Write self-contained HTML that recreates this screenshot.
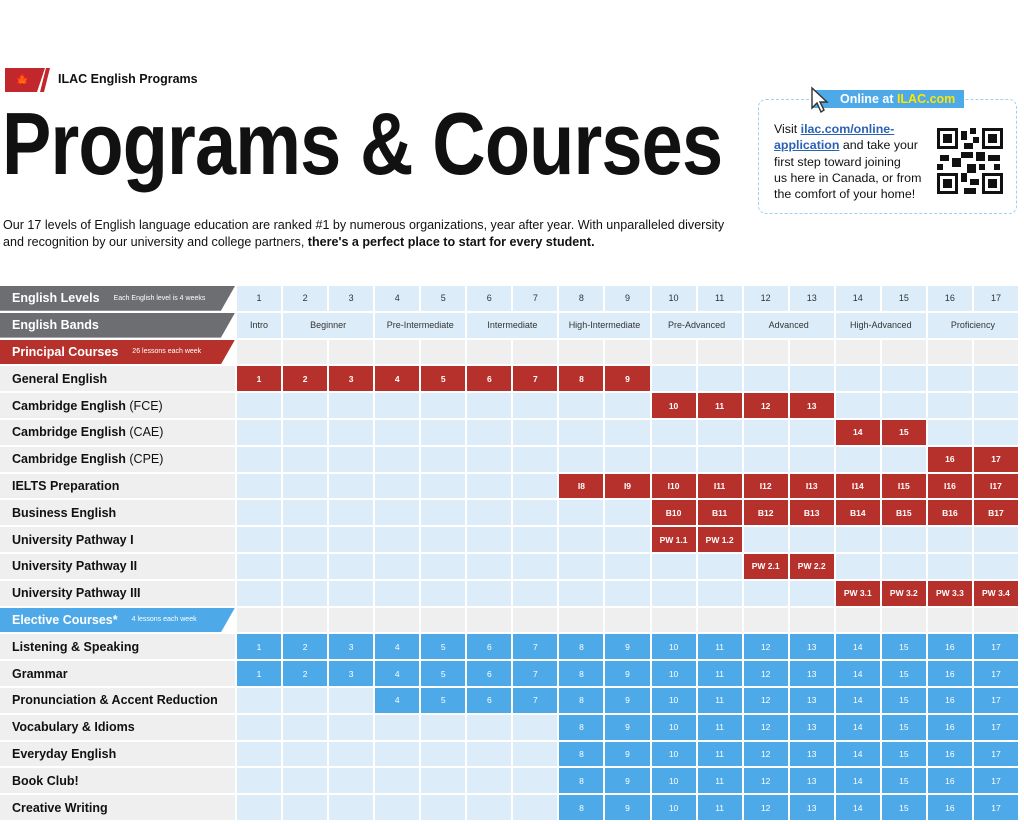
<!DOCTYPE html>
<html><head><meta charset="utf-8"><style>
*{margin:0;padding:0;box-sizing:border-box}
body{width:1024px;height:824px;background:#fff;font-family:"Liberation Sans",Arial,sans-serif;position:relative;overflow:hidden;color:#111}
.abs{position:absolute}
#grid{position:absolute;left:0;top:286px;width:1018px;display:grid;grid-template-columns:235px repeat(17,1fr);grid-auto-rows:24.8px;gap:2px 2px}
#grid div{display:flex;align-items:center;justify-content:center;font-size:9px;color:#333}
#grid .l{justify-content:flex-start;padding-left:12px;background:#efefef;font-size:12.5px;font-weight:bold;color:#111}
#grid .e{background:#dcedf9}
#grid .g{background:#efefef}
#grid .r{background:#b7312c;color:#fff;font-weight:bold;font-size:8.5px}
#grid .b{background:#4ea9e8;color:#fff;font-size:8.5px}
#grid .h{justify-content:flex-start;padding-left:12px;color:#fff;font-weight:bold;font-size:12.5px;clip-path:polygon(0 0,100% 0,94% 100%,0 100%);background:#6d6e71}
#grid .h small{font-weight:normal;font-size:7px;margin-left:14px}
</style></head><body>
<div class="abs" style="left:5px;top:68px;width:40px;height:24px;background:#c1272d;clip-path:polygon(0 0,100% 0,80% 100%,0 100%)"></div>
<div class="abs" style="left:40px;top:68px;width:10px;height:24px;background:#c1272d;clip-path:polygon(60% 0,100% 0,40% 100%,0 100%)"></div>
<div class="abs" style="left:14px;top:72px;color:#fff;font-size:13px">&#127809;</div>
<div class="abs" style="left:58px;top:72px;font-size:12.5px;font-weight:bold">ILAC English Programs</div>
<div class="abs" style="left:2px;top:100px;font-size:88px;font-weight:bold;letter-spacing:-1px;transform:scaleX(0.84);transform-origin:0 0;white-space:nowrap;line-height:1">Programs &amp; Courses</div>
<div class="abs" style="left:3px;top:217px;font-size:12.55px;line-height:17px;white-space:nowrap">Our 17 levels of English language education are ranked #1 by numerous organizations, year after year. With unparalleled diversity<br>and recognition by our university and college partners, <b>there's a perfect place to start for every student.</b></div>
<div class="abs" style="left:758px;top:99px;width:259px;height:115px;border:1.5px dashed #9fd0f0;border-radius:8px"></div>
<div class="abs" style="left:812px;top:90px;width:152px;height:18px;background:#4ea9e8;color:#fff;font-weight:bold;font-size:12.5px;line-height:18px;padding-left:28px">Online at <span style="color:#ffe600">ILAC.com</span></div>
<svg class="abs" style="left:810px;top:86px" width="20" height="28" viewBox="0 0 20 28"><path d="M2 2 L2 22 L7 17 L11 26 L14 24 L10 16 L17 16 Z" fill="#fff" stroke="#333" stroke-width="1.4"/></svg>
<div class="abs" style="left:774px;top:121px;font-size:12.4px;line-height:16.3px;white-space:nowrap">Visit <a style="color:#2a62b5;font-weight:bold;text-decoration:underline">ilac.com/online-</a><br><a style="color:#2a62b5;font-weight:bold;text-decoration:underline">application</a> and take your<br>first step toward joining<br>us here in Canada, or from<br>the comfort of your home!</div>
<svg class="abs" style="left:937px;top:128px" width="66" height="66" viewBox="0 0 22 22">
<rect width="22" height="22" fill="#fff"/>
<g fill="#111"><rect x="0" y="0" width="7" height="7"/><rect x="15" y="0" width="7" height="7"/><rect x="0" y="15" width="7" height="7"/><rect x="15" y="15" width="7" height="7"/></g>
<g fill="#fff"><rect x="1" y="1" width="5" height="5"/><rect x="16" y="1" width="5" height="5"/><rect x="1" y="16" width="5" height="5"/><rect x="16" y="16" width="5" height="5"/></g>
<g fill="#111"><rect x="2" y="2" width="3" height="3"/><rect x="17" y="2" width="3" height="3"/><rect x="2" y="17" width="3" height="3"/><rect x="17" y="17" width="3" height="3"/>
<rect x="8" y="1" width="2" height="3"/><rect x="11" y="0" width="2" height="2"/><rect x="9" y="5" width="3" height="2"/><rect x="8" y="8" width="4" height="2"/><rect x="13" y="8" width="3" height="3"/><rect x="1" y="9" width="3" height="2"/><rect x="5" y="10" width="3" height="3"/><rect x="17" y="9" width="4" height="2"/><rect x="10" y="12" width="3" height="3"/><rect x="14" y="12" width="2" height="2"/><rect x="19" y="12" width="2" height="2"/><rect x="8" y="15" width="2" height="3"/><rect x="11" y="17" width="3" height="2"/><rect x="9" y="20" width="4" height="2"/><rect x="0" y="12" width="2" height="2"/><rect x="12" y="3" width="2" height="2"/></g>
</svg>
<div id="grid">
<div class="h">English Levels<small>Each English level is 4 weeks</small></div>
<div class="e">1</div><div class="e">2</div><div class="e">3</div><div class="e">4</div><div class="e">5</div><div class="e">6</div><div class="e">7</div><div class="e">8</div><div class="e">9</div><div class="e">10</div><div class="e">11</div><div class="e">12</div><div class="e">13</div><div class="e">14</div><div class="e">15</div><div class="e">16</div><div class="e">17</div>
<div class="h">English Bands</div>
<div class="e">Intro</div><div class="e" style="grid-column:span 2">Beginner</div><div class="e" style="grid-column:span 2">Pre-Intermediate</div><div class="e" style="grid-column:span 2">Intermediate</div><div class="e" style="grid-column:span 2">High-Intermediate</div><div class="e" style="grid-column:span 2">Pre-Advanced</div><div class="e" style="grid-column:span 2">Advanced</div><div class="e" style="grid-column:span 2">High-Advanced</div><div class="e" style="grid-column:span 2">Proficiency</div>
<div class="h" style="background:#b7312c">Principal Courses<small>26 lessons each week</small></div>
<div class="g"></div><div class="g"></div><div class="g"></div><div class="g"></div><div class="g"></div><div class="g"></div><div class="g"></div><div class="g"></div><div class="g"></div><div class="g"></div><div class="g"></div><div class="g"></div><div class="g"></div><div class="g"></div><div class="g"></div><div class="g"></div><div class="g"></div>
<div class="l">General English</div>
<div class="r">1</div><div class="r">2</div><div class="r">3</div><div class="r">4</div><div class="r">5</div><div class="r">6</div><div class="r">7</div><div class="r">8</div><div class="r">9</div><div class="e"></div><div class="e"></div><div class="e"></div><div class="e"></div><div class="e"></div><div class="e"></div><div class="e"></div><div class="e"></div>
<div class="l">Cambridge English&nbsp;<span style="font-weight:normal">(FCE)</span></div>
<div class="e"></div><div class="e"></div><div class="e"></div><div class="e"></div><div class="e"></div><div class="e"></div><div class="e"></div><div class="e"></div><div class="e"></div><div class="r">10</div><div class="r">11</div><div class="r">12</div><div class="r">13</div><div class="e"></div><div class="e"></div><div class="e"></div><div class="e"></div>
<div class="l">Cambridge English&nbsp;<span style="font-weight:normal">(CAE)</span></div>
<div class="e"></div><div class="e"></div><div class="e"></div><div class="e"></div><div class="e"></div><div class="e"></div><div class="e"></div><div class="e"></div><div class="e"></div><div class="e"></div><div class="e"></div><div class="e"></div><div class="e"></div><div class="r">14</div><div class="r">15</div><div class="e"></div><div class="e"></div>
<div class="l">Cambridge English&nbsp;<span style="font-weight:normal">(CPE)</span></div>
<div class="e"></div><div class="e"></div><div class="e"></div><div class="e"></div><div class="e"></div><div class="e"></div><div class="e"></div><div class="e"></div><div class="e"></div><div class="e"></div><div class="e"></div><div class="e"></div><div class="e"></div><div class="e"></div><div class="e"></div><div class="r">16</div><div class="r">17</div>
<div class="l">IELTS Preparation</div>
<div class="e"></div><div class="e"></div><div class="e"></div><div class="e"></div><div class="e"></div><div class="e"></div><div class="e"></div><div class="r">I8</div><div class="r">I9</div><div class="r">I10</div><div class="r">I11</div><div class="r">I12</div><div class="r">I13</div><div class="r">I14</div><div class="r">I15</div><div class="r">I16</div><div class="r">I17</div>
<div class="l">Business English</div>
<div class="e"></div><div class="e"></div><div class="e"></div><div class="e"></div><div class="e"></div><div class="e"></div><div class="e"></div><div class="e"></div><div class="e"></div><div class="r">B10</div><div class="r">B11</div><div class="r">B12</div><div class="r">B13</div><div class="r">B14</div><div class="r">B15</div><div class="r">B16</div><div class="r">B17</div>
<div class="l">University Pathway I</div>
<div class="e"></div><div class="e"></div><div class="e"></div><div class="e"></div><div class="e"></div><div class="e"></div><div class="e"></div><div class="e"></div><div class="e"></div><div class="r">PW 1.1</div><div class="r">PW 1.2</div><div class="e"></div><div class="e"></div><div class="e"></div><div class="e"></div><div class="e"></div><div class="e"></div>
<div class="l">University Pathway II</div>
<div class="e"></div><div class="e"></div><div class="e"></div><div class="e"></div><div class="e"></div><div class="e"></div><div class="e"></div><div class="e"></div><div class="e"></div><div class="e"></div><div class="e"></div><div class="r">PW 2.1</div><div class="r">PW 2.2</div><div class="e"></div><div class="e"></div><div class="e"></div><div class="e"></div>
<div class="l">University Pathway III</div>
<div class="e"></div><div class="e"></div><div class="e"></div><div class="e"></div><div class="e"></div><div class="e"></div><div class="e"></div><div class="e"></div><div class="e"></div><div class="e"></div><div class="e"></div><div class="e"></div><div class="e"></div><div class="r">PW 3.1</div><div class="r">PW 3.2</div><div class="r">PW 3.3</div><div class="r">PW 3.4</div>
<div class="h" style="background:#4ea9e8">Elective Courses*<small>4 lessons each week</small></div>
<div class="g"></div><div class="g"></div><div class="g"></div><div class="g"></div><div class="g"></div><div class="g"></div><div class="g"></div><div class="g"></div><div class="g"></div><div class="g"></div><div class="g"></div><div class="g"></div><div class="g"></div><div class="g"></div><div class="g"></div><div class="g"></div><div class="g"></div>
<div class="l">Listening &amp; Speaking</div>
<div class="b">1</div><div class="b">2</div><div class="b">3</div><div class="b">4</div><div class="b">5</div><div class="b">6</div><div class="b">7</div><div class="b">8</div><div class="b">9</div><div class="b">10</div><div class="b">11</div><div class="b">12</div><div class="b">13</div><div class="b">14</div><div class="b">15</div><div class="b">16</div><div class="b">17</div>
<div class="l">Grammar</div>
<div class="b">1</div><div class="b">2</div><div class="b">3</div><div class="b">4</div><div class="b">5</div><div class="b">6</div><div class="b">7</div><div class="b">8</div><div class="b">9</div><div class="b">10</div><div class="b">11</div><div class="b">12</div><div class="b">13</div><div class="b">14</div><div class="b">15</div><div class="b">16</div><div class="b">17</div>
<div class="l">Pronunciation &amp; Accent Reduction</div>
<div class="e"></div><div class="e"></div><div class="e"></div><div class="b">4</div><div class="b">5</div><div class="b">6</div><div class="b">7</div><div class="b">8</div><div class="b">9</div><div class="b">10</div><div class="b">11</div><div class="b">12</div><div class="b">13</div><div class="b">14</div><div class="b">15</div><div class="b">16</div><div class="b">17</div>
<div class="l">Vocabulary &amp; Idioms</div>
<div class="e"></div><div class="e"></div><div class="e"></div><div class="e"></div><div class="e"></div><div class="e"></div><div class="e"></div><div class="b">8</div><div class="b">9</div><div class="b">10</div><div class="b">11</div><div class="b">12</div><div class="b">13</div><div class="b">14</div><div class="b">15</div><div class="b">16</div><div class="b">17</div>
<div class="l">Everyday English</div>
<div class="e"></div><div class="e"></div><div class="e"></div><div class="e"></div><div class="e"></div><div class="e"></div><div class="e"></div><div class="b">8</div><div class="b">9</div><div class="b">10</div><div class="b">11</div><div class="b">12</div><div class="b">13</div><div class="b">14</div><div class="b">15</div><div class="b">16</div><div class="b">17</div>
<div class="l">Book Club!</div>
<div class="e"></div><div class="e"></div><div class="e"></div><div class="e"></div><div class="e"></div><div class="e"></div><div class="e"></div><div class="b">8</div><div class="b">9</div><div class="b">10</div><div class="b">11</div><div class="b">12</div><div class="b">13</div><div class="b">14</div><div class="b">15</div><div class="b">16</div><div class="b">17</div>
<div class="l">Creative Writing</div>
<div class="e"></div><div class="e"></div><div class="e"></div><div class="e"></div><div class="e"></div><div class="e"></div><div class="e"></div><div class="b">8</div><div class="b">9</div><div class="b">10</div><div class="b">11</div><div class="b">12</div><div class="b">13</div><div class="b">14</div><div class="b">15</div><div class="b">16</div><div class="b">17</div>
</div>
</body></html>
